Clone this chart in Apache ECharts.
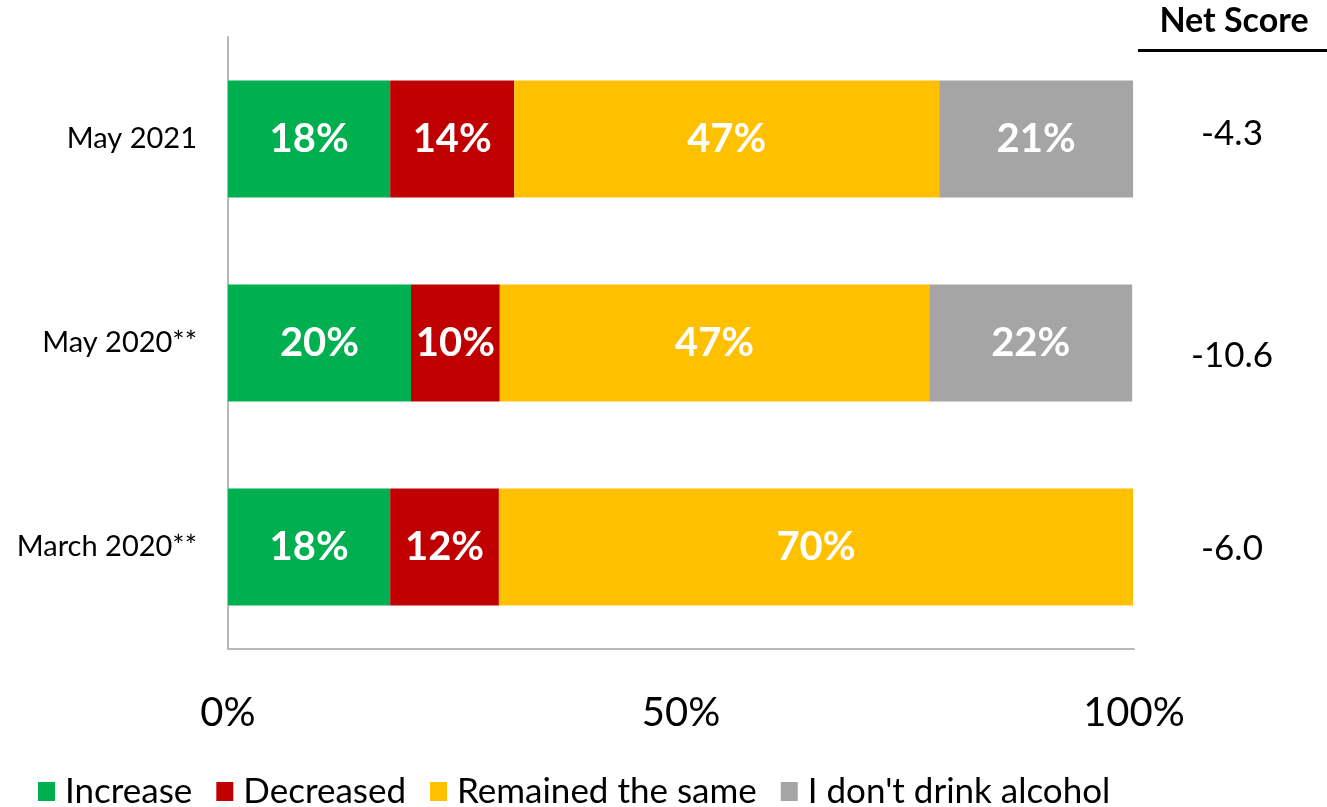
<!DOCTYPE html>
<html>
<head>
<meta charset="utf-8">
<script src="https://cdn.jsdelivr.net/npm/echarts@6/dist/echarts.min.js"></script>
<style>html,body{margin:0;padding:0;background:#fff;}#c{width:1327px;height:807px;}</style>
</head>
<body>
<div id="c"></div>
<script>
const categories = ['May 2021', 'May 2020**', 'March 2020**'];
const increase = [17.9, 20.2, 17.9];
const decreased = [13.7, 9.8, 12.0];
const remained = [46.9, 47.4, 70.0];
const noDrink = [21.4, 22.4, 0];
const netScores = ['-4.3', '-10.6', '-6.0'];
const xTicks = [0, 50, 100];

const FONT = 'Lato';
const chart = echarts.init(document.getElementById('c'));

function mk(name, data, color) {
  return {
    name: name, type: 'bar', stack: 'total', data: data, barWidth: 117,
    itemStyle: { color: color },
    label: {
      show: true, position: 'inside', color: '#fff', fontFamily: FONT,
      fontWeight: 'bold', fontSize: 40,
      formatter: p => p.value > 0 ? Math.round(p.value) + '%' : ''
    },
    emphasis: { disabled: true }
  };
}

chart.setOption({
  animation: false,
  textStyle: { fontFamily: FONT },
  grid: { left: 228, right: 193, top: 37, bottom: 158, containLabel: false },
  legend: {
    left: 33, top: 769, itemWidth: 17, itemHeight: 19, itemGap: 24,
    icon: 'rect',
    textStyle: { fontFamily: FONT, fontSize: 35, color: '#000', padding: [0, 0, 0, 5] },
    data: ['Increase', 'Decreased', 'Remained the same', "I don't drink alcohol"]
  },
  xAxis: {
    type: 'value', min: 0, max: 100, interval: 50,
    axisLine: { show: true, lineStyle: { color: '#b8b8b8', width: 2 } },
    axisTick: { show: false },
    splitLine: { show: false },
    axisLabel: {
      fontFamily: FONT, fontSize: 40, color: '#000', margin: 44,
      formatter: v => xTicks.includes(v) ? v + '%' : ''
    }
  },
  yAxis: [{
    type: 'category', data: categories, inverse: true,
    axisLine: { show: true, lineStyle: { color: '#b8b8b8', width: 2 } },
    axisTick: { show: false },
    axisLabel: { fontFamily: FONT, fontSize: 29, color: '#000', margin: 31 }
  }, {
    type: 'category', data: netScores, inverse: true, position: 'right',
    axisLine: { show: false }, axisTick: { show: false },
    axisLabel: {
      fontFamily: FONT, fontSize: 35, color: '#000', margin: 98, align: 'center',
      formatter: (v, i) => '{s' + i + '|' + v + '}',
      rich: {
        s0: { fontFamily: FONT, fontSize: 35, padding: [0, 0, 10, 0] },
        s1: { fontFamily: FONT, fontSize: 35, padding: [26, 0, 0, 0] },
        s2: { fontFamily: FONT, fontSize: 35, padding: [4, 0, 0, 0] }
      }
    }
  }],
  graphic: [
    { type: 'text', x: 1234, y: 4, style: { text: 'Net Score', font: 'bold 34px Lato', fill: '#000', textAlign: 'center' } },
    { type: 'rect', shape: { x: 1138, y: 49, width: 189, height: 3 }, style: { fill: '#000' } }
  ],
  series: [
    mk('Increase', increase, '#00B050'),
    mk('Decreased', decreased, '#C00000'),
    mk('Remained the same', remained, '#FFC000'),
    mk("I don't drink alcohol", noDrink, '#A5A5A5')
  ]
});
</script>
</body>
</html>
